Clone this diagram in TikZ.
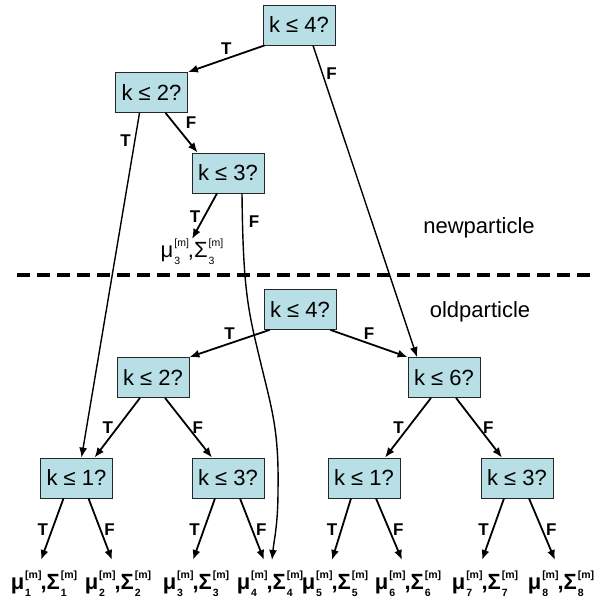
\documentclass[tikz,border=0pt]{standalone}
\usepackage{fontspec}
\setmainfont{Liberation Sans}
\usetikzlibrary{arrows.meta}
\definecolor{boxfill}{RGB}{184,223,229}
\tikzset{
	MyBox/.style={draw=black!85,fill=boxfill,line width=0.8pt,minimum width=72pt,
    minimum height=40pt,inner sep=0pt,font=\fontsize{22}{26}\selectfont},
	MyArrow/.style={-{Latex[length=10pt,width=8pt]},line width=1.8pt},
	MyLine/.style={-{Latex[length=10pt,width=8pt]},line width=1.4pt},
	MyLabel/.style={font=\fontsize{17}{20}\selectfont\bfseries},
	MyLeaf/.style={anchor=north,inner xsep=0pt,inner ysep=11pt,
    font=\fontsize{22}{26}\selectfont\bfseries},
	MyText/.style={font=\fontsize{22}{26}\selectfont}
		}
% mu and Sigma with [m] above and the index below
\newcommand\MyScr{\fontsize{10.5}{11}\selectfont}
\newcommand\MyIdx[1]{\kern1pt\setbox0\hbox{\MyScr[m]}%
  \rlap{\raisebox{0.5em}{\copy0}}%
  \makebox[\wd0][l]{\raisebox{-0.3em}{\MyScr#1}}}
\newcommand\musig[1]{μ\MyIdx{#1}\kern-1pt,Σ\MyIdx{#1}}

\begin{document}
\begin{tikzpicture}[x=1pt,y=-1pt]
  \useasboundingbox (0,0) rectangle (600,604);

  % new particle
  \node[MyBox] (n4) at (299,25) {k ≤ 4?};
  \node[MyBox] (n2) at (151.5,92.5) {k ≤ 2?};
  \node[MyBox] (n3) at (228,173) {k ≤ 3?};
  \node[MyLeaf,inner ysep=0pt,font=\fontsize{22}{26}\selectfont] (nl3) at (192,239) {\musig{3}};
  \node[MyText] (newp) at (479,228) {newparticle};

  \draw[line width=4pt,dash pattern=on 13pt off 7pt] (17,275) -- (597,275);

  % old particle
  \node[MyText] (oldp) at (480,312) {oldparticle};
  \node[MyBox] (o4) at (300,309.5) {k ≤ 4?};
  \node[MyBox] (o2) at (153,377.5) {k ≤ 2?};
  \node[MyBox] (o6) at (444,377.5) {k ≤ 6?};
  \node[MyBox] (o1a) at (76.5,478) {k ≤ 1?};
  \node[MyBox] (o3a) at (228,478) {k ≤ 3?};
  \node[MyBox] (o1b) at (364,478) {k ≤ 1?};
  \node[MyBox] (o3b) at (517,478) {k ≤ 3?};

  \def\ly{560}% where the leaf arrows end
  \node[MyLeaf] (l1) at (44,\ly) {\musig{1}};
  \node[MyLeaf] (l2) at (118,\ly) {\musig{2}};
  \node[MyLeaf] (l3) at (196,\ly) {\musig{3}};
  \node[MyLeaf] (l4) at (270,\ly) {\musig{4}};
  \node[MyLeaf] (l5) at (335,\ly) {\musig{5}};
  \node[MyLeaf] (l6) at (408,\ly) {\musig{6}};
  \node[MyLeaf] (l7) at (485,\ly) {\musig{7}};
  \node[MyLeaf] (l8) at (561,\ly) {\musig{8}};

  % edges of the new tree
  \draw[MyArrow] ([xshift=2pt]n4.south west) -- node[MyLabel,above]{T} (n2.north east);
  \draw[MyLine] ([xshift=14pt]n4.south) -- node[MyLabel,pos=0.09,right]{F}
    ([xshift=-27pt]o6.north);
  \draw[MyArrow] ([xshift=14pt]n2.south) -- node[MyLabel,above right]{F}
    ([xshift=6pt]n3.north west);
  \draw[MyLine] ([xshift=-12pt]n2.south) -- node[MyLabel,pos=0.08,left]{T}
    ([xshift=5pt]o1a.north);
  \draw[MyArrow] ([xshift=-11pt]n3.south) -- node[MyLabel,left]{T} (nl3.north);
  \draw[MyLine] ([xshift=14pt]n3.south) .. controls (243,290) and (248,310) .. (260,360)
    .. controls (272,410) and (279,430) .. (278,490)
    .. controls (278,525) and (274,540) .. ([xshift=2pt]l4.north);
  \node[MyLabel] at (254,222) {F};

  % edges of the old tree
  \draw[MyArrow] ([xshift=6pt]o4.south west) -- node[MyLabel,above]{T} (o2.north east);
  \draw[MyArrow] ([xshift=-6pt]o4.south east) -- node[MyLabel,above]{F} (o6.north west);
  \draw[MyArrow] ([xshift=-13pt]o2.south) -- node[MyLabel,left]{T} ([xshift=18pt]o1a.north);
  \draw[MyArrow] ([xshift=12pt]o2.south) -- node[MyLabel,right]{F} ([xshift=-16pt]o3a.north);
  \draw[MyArrow] ([xshift=-13pt]o6.south) -- node[MyLabel,left]{T} ([xshift=21pt]o1b.north);
  \draw[MyArrow] ([xshift=12pt]o6.south) -- node[MyLabel,right]{F} ([xshift=-15pt]o3b.north);
  \foreach \b/\t/\f in {o1a/l1/l2,o3a/l3/l4,o1b/l5/l6,o3b/l7/l8}{
    \draw[MyArrow] ([xshift=-13pt]\b.south) -- node[MyLabel,left]{T} ([xshift=-3pt]\t.north);
    \draw[MyArrow] ([xshift=12pt]\b.south) -- node[MyLabel,right]{F} ([xshift=-6pt]\f.north);
  }
\end{tikzpicture}
\end{document}
